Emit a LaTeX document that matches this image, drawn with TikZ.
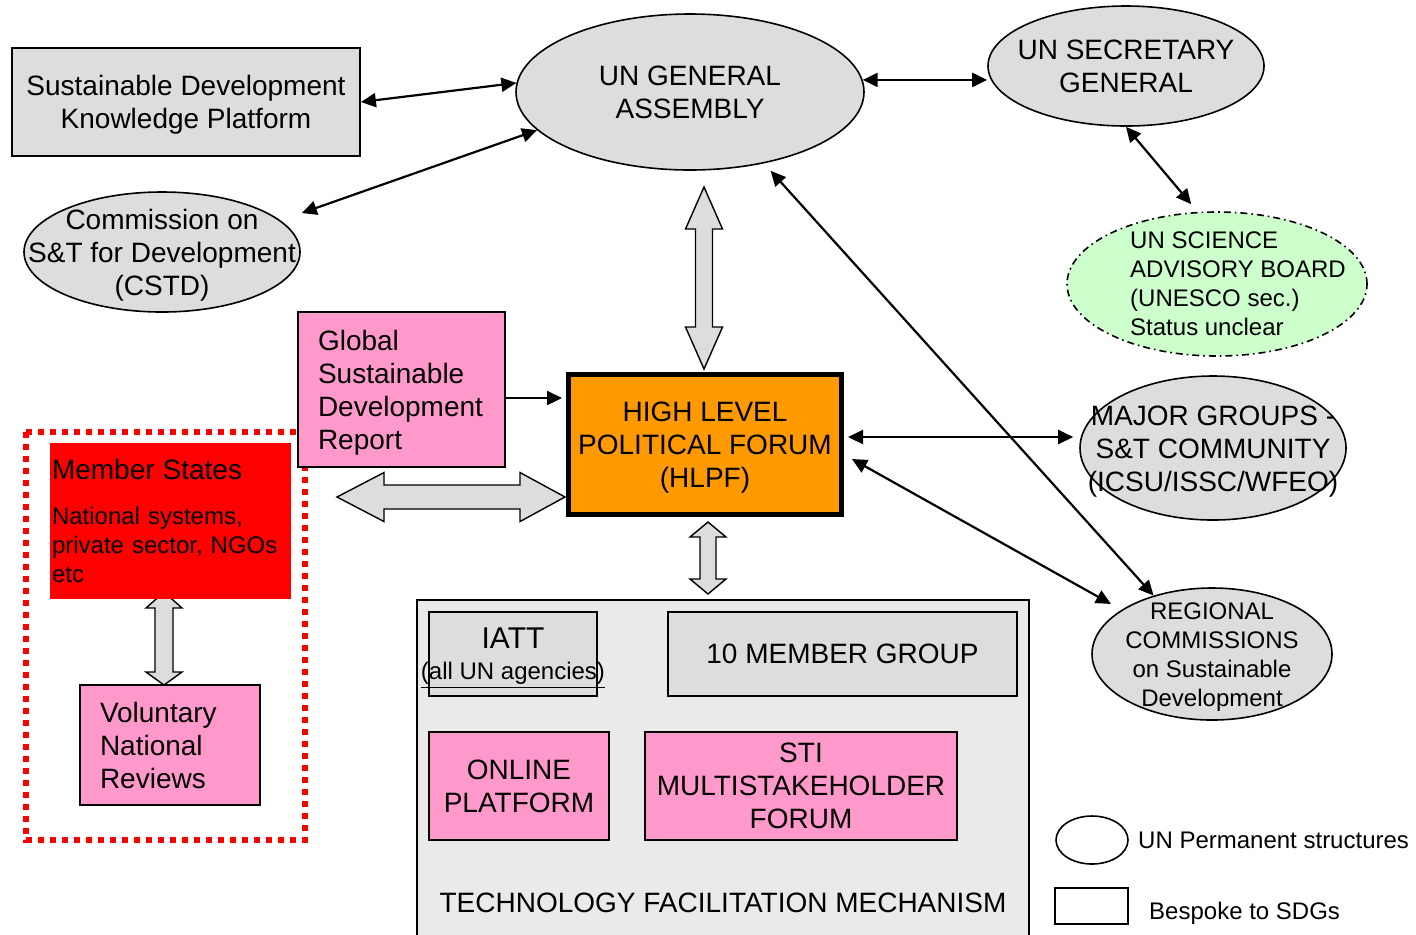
\documentclass[tikz,border=0pt]{standalone}
\usepackage{fontspec}
\setmainfont{Liberation Sans}
\usepackage{xcolor}
\usepackage{tikz}
\usetikzlibrary{shapes.geometric, arrows.meta}

\definecolor{ungray}{HTML}{DDDDDD}
\definecolor{tfmgray}{HTML}{EAEAEA}
\definecolor{sdgpink}{HTML}{FF99CC}
\definecolor{hlpforange}{HTML}{FF9900}
\definecolor{boardgreen}{HTML}{CCFFCC}

% last line without depth, so the text block sits centred
\newcommand{\flatline}[1]{\raisebox{0pt}[\height][0pt]{#1}}

\tikzset{
  bigtxt/.style={font=\fontsize{14}{16.5}\selectfont},
  smalltxt/.style={font=\fontsize{12}{14.5}\selectfont},
  sdgbox/.style={rectangle, draw, line width=0.9pt, inner sep=0pt, align=center, bigtxt},
  perm/.style={ellipse, draw, fill=ungray, line width=0.8pt, inner sep=0pt},
  lbl/.style={inner sep=0pt, align=center, bigtxt},
  blockarrow/.style={draw, fill=ungray, line width=0.7pt, line join=miter},
  link/.style={<->, >={Triangle[length=7.5pt,width=7pt]}, line width=1.1pt},
}

\begin{document}
\begin{tikzpicture}[x=0.5pt, y=-0.5pt]
  \useasboundingbox (0,0) rectangle (1416,934);

  % member states group
  \draw[red, line width=3pt, dash pattern=on 3pt off 3pt] (26,432) rectangle (305,840);
  \draw[blockarrow] (164,592) -- (182,608) -- (173,608) -- (173,672) -- (182,672) -- (164,685)
    -- (146,672) -- (155,672) -- (155,608) -- (146,608) -- cycle;
  \node[rectangle, fill=red, inner sep=0pt, minimum width=120.5pt, minimum height=78pt,
    text width=118.5pt, align=left, smalltxt] (member) at (170.5,521)
    {{\fontsize{14}{16.5}\selectfont Member States}\\[8pt]National systems,\\private sector, NGOs\\etc};
  \node[sdgbox, fill=sdgpink, minimum width=90pt, minimum height=60pt,
    text width=70pt, align=left] (vnr) at (170,745) {Voluntary\\National\\Reviews};

  % report
  \node[sdgbox, fill=sdgpink, minimum width=103.5pt, minimum height=77.5pt,
    text width=83.5pt, align=left] (gsdr) at (401.5,389.5) {Global\\Sustainable\\Development\\\flatline{Report}};

  % technology facilitation mechanism
  \node[sdgbox, fill=tfmgray, minimum width=306pt, minimum height=168pt] (tfm) at (723,768) {};
  \node[lbl] (tfmtxt) at (723,903) {TECHNOLOGY FACILITATION MECHANISM};
  \node[sdgbox, fill=ungray, minimum width=84pt, minimum height=42pt, smalltxt] (iatt) at (513,654)
    {{\fontsize{15}{18}\selectfont IATT}\\[1pt]\makebox[0pt]{\raisebox{0pt}[0pt][0pt]{\underline{(all UN agencies)}}}};
  \node[sdgbox, fill=ungray, minimum width=174.5pt, minimum height=42pt] (tenmg) at (842.5,654) {10 MEMBER GROUP};
  \node[sdgbox, fill=sdgpink, minimum width=90pt, minimum height=54pt] (online) at (519,786) {ONLINE\\PLATFORM};
  \node[sdgbox, fill=sdgpink, minimum width=156pt, minimum height=54pt] (sti) at (801,786) {STI\\MULTISTAKEHOLDER\\FORUM};

  % UN structures
  \node[sdgbox, fill=ungray, minimum width=174pt, minimum height=54pt] (sdkp) at (186,102)
    {Sustainable Development\\\flatline{Knowledge Platform}};
  \node[perm, minimum width=174pt, minimum height=78pt,
    label={[lbl]center:{UN GENERAL\\ASSEMBLY}}] (ga) at (690,92) {};
  \node[perm, minimum width=138pt, minimum height=60pt,
    label={[lbl]center:{UN SECRETARY\\GENERAL}}] (sg) at (1126,66) {};
  \node[perm, minimum width=138pt, minimum height=60pt,
    label={[lbl, yshift=-1.5pt]center:{Commission on\\S\&T for Development\\(CSTD)}}] (cstd) at (162,252) {};
  \node[perm, fill=boardgreen, dash pattern=on 3.5pt off 2pt on 0.8pt off 2pt,
    minimum width=150pt, minimum height=72pt,
    label={[lbl, smalltxt, align=left, xshift=10.5pt]center:{UN SCIENCE\\ADVISORY BOARD\\(UNESCO sec.)\\Status unclear}}]
    (sab) at (1217,284) {};
  \node[perm, minimum width=133pt, minimum height=72pt,
    label={[lbl, yshift=-2pt]center:{MAJOR GROUPS -\\S\&T COMMUNITY\\(ICSU/ISSC/WFEO)}}] (major) at (1213,448) {};
  \node[perm, minimum width=120pt, minimum height=66pt,
    label={[lbl, smalltxt, yshift=-1.5pt]center:{REGIONAL\\COMMISSIONS\\on Sustainable\\Development}}] (regional) at (1212,654) {};

  % forum
  \node[sdgbox, fill=hlpforange, line width=2.5pt, minimum width=136.5pt, minimum height=70pt] (hlpf) at (705,444.5)
    {HIGH LEVEL\\POLITICAL FORUM\\\flatline{(HLPF)}};

  % block arrows
  \draw[blockarrow] (704,187) -- (722.5,229) -- (712.5,229) -- (712.5,327) -- (722.5,327) -- (704,369)
    -- (685.5,327) -- (695.5,327) -- (695.5,229) -- (685.5,229) -- cycle;
  \draw[blockarrow] (337,497) -- (384,472.5) -- (384,485) -- (520,485) -- (520,472.5) -- (565,497)
    -- (520,521.5) -- (520,509) -- (384,509) -- (384,521.5) -- cycle;
  \draw[blockarrow] (708,522) -- (726,537) -- (716,537) -- (716,579) -- (726,579) -- (708,594)
    -- (690,579) -- (700,579) -- (700,537) -- (690,537) -- cycle;

  % links
  \draw[link] (sdkp.east) -- (ga.177);
  \draw[link] ([xshift=0.5pt, yshift=19.5pt]cstd.east) -- (ga.194);
  \draw[link] (ga.4) -- (ga.4 -| sg.west);
  \draw[link, shorten >=5pt] (sg.south) -- (sab.105);
  \draw[-{Triangle[length=7.5pt,width=7pt]}, line width=1.1pt, shorten >=2pt]
    ([yshift=-4.25pt]gsdr.east) -- ([yshift=-4.25pt]gsdr.east -| hlpf.west);
  \draw[link, shorten >=3pt] ([xshift=2pt, yshift=3.75pt]hlpf.east) -- ([yshift=3.75pt]hlpf.east -| major.west);
  \draw[link, shorten >=6pt] ([xshift=4pt, yshift=-7.25pt]hlpf.east) -- (regional.154);
  \draw[link, shorten <=5pt] (ga.-44) -- (regional.135.5);

  % legend
  \node[ellipse, draw, line width=0.8pt, minimum width=36pt, minimum height=24pt, inner sep=0pt,
    label={[lbl, smalltxt, xshift=4.5pt]east:UN Permanent structures}] (legperm) at (1092,840) {};
  \node[rectangle, draw, line width=0.8pt, minimum width=36.5pt, minimum height=18pt, inner sep=0pt,
    label={[lbl, smalltxt, xshift=10pt, yshift=-3.5pt]east:Bespoke to SDGs}] (legsdg) at (1091.5,906) {};
\end{tikzpicture}
\end{document}
